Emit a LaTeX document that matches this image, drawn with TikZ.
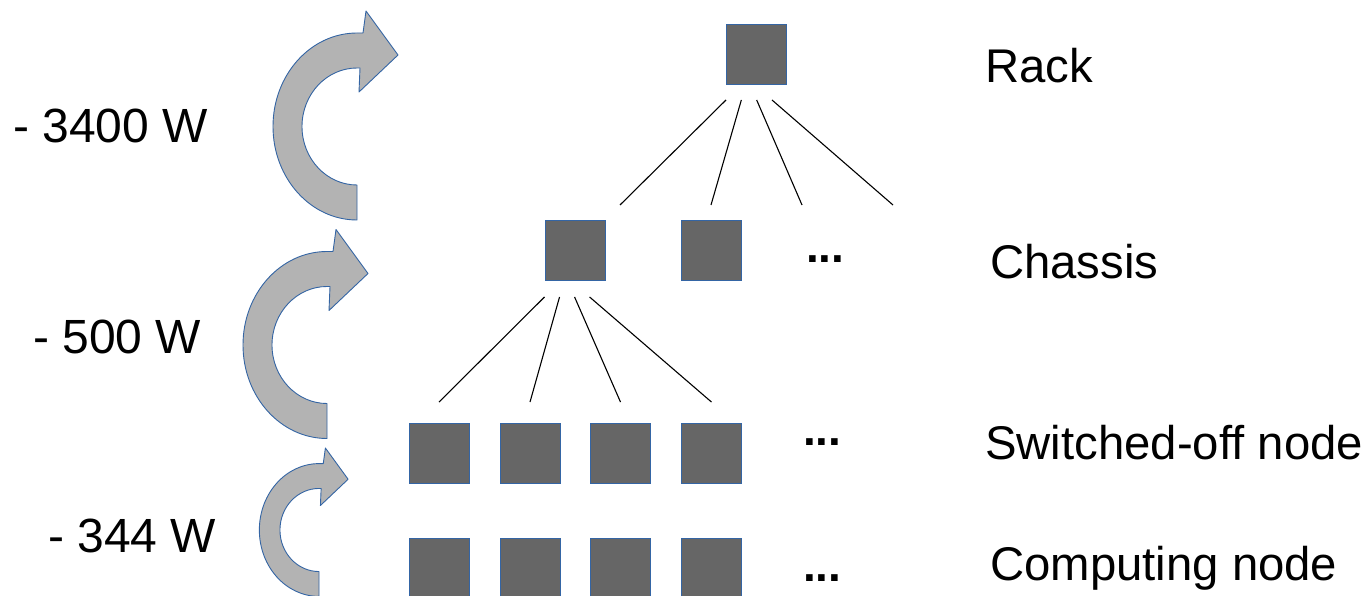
\documentclass[tikz,border=0pt]{standalone}
\usepackage{fontspec}
\setmainfont{Liberation Sans}
\usepackage{tikz}
\usetikzlibrary{calc}
\definecolor{boxgray}{HTML}{666666}
\definecolor{boxline}{HTML}{3465A4}
\definecolor{turngray}{HTML}{B3B3B3}

\begin{document}
\begin{tikzpicture}[x=1pt,y=-1pt]
    \newcommand{\turnarrow}[3]{%
      \begin{scope}[shift={(#1,#2)},scale=#3]
        \draw[turn] (0,93.5) arc[start angle=90,end angle=270,x radius=84,y radius=93.5] -- (6,-93.5) -- (9,-115.5) -- (41,-71.5) -- (2,-34.5) -- (3,-58.5) -- (0,-58.5) arc[start angle=270,end angle=90,x radius=55,y radius=58.5] -- cycle;
      \end{scope}}
    \tikzstyle{edge} = [line width=1.1pt,draw=black]
    \tikzstyle{turn} = [fill=turngray,draw=boxline,line width=0.9pt,line join=round]
    \tikzstyle{box}=[
      rectangle,
      draw=boxline,
      fill=boxgray,
      line width=0.9pt,
      minimum size=60pt,
      inner sep=0pt,
    ]
    \tikzstyle{lbl} = [anchor=base west,inner sep=0pt,font=\fontsize{47.3}{52}\selectfont]
    \tikzstyle{pwr} = [anchor=base west,inner sep=0pt,font=\fontsize{48}{52}\selectfont]
    \tikzstyle{dots} = [anchor=base west,inner sep=0pt,font=\fontsize{46}{50}\selectfont\bfseries]

    \useasboundingbox (0,0) rectangle (1371,596);

    \turnarrow{357}{126.5}{1}
    \turnarrow{327}{345}{1}
    \turnarrow{319}{530}{0.71}

    \node[box] (rack) at (756.5,54.5) {};
    \node[box] (ch1) at (575,250.5) {};
    \node[box] (ch2) at (711.5,250.5) {};
    \foreach \x [count=\i] in {439,530,620.5,711.5} {
      \node[box] (off\i) at (\x,453.5) {};
      \node[box] (cmp\i) at (\x,568.5) {};
    }

    \foreach \tx [count=\i] in {620,711,802,893} {
      \coordinate (rt\i) at ($(rack.south west)+({15.3*(\i-1)},15)$);
      \coordinate (rb\i) at (\tx,205);
      \draw[edge] (rt\i) -- (rb\i);
    }
    \foreach \i in {1,...,4} {
      \coordinate (ct\i) at ($(ch1.south west)+({15*(\i-1)},16)$);
      \coordinate (cb\i) at ($(off\i.north)+(0,-21)$);
      \draw[edge] (ct\i) -- (cb\i);
    }

    \node[dots] (d1) at (806,262) {...};
    \node[dots] (d2) at (803,445) {...};
    \node[dots] (d3) at (803,581) {...};

    \node[lbl] (rackl) at (985,83) {Rack};
    \node[lbl] (chassisl) at (990,279) {Chassis};
    \node[lbl] (offl) at (985,459) {Switched-off node};
    \node[lbl] (cmpl) at (990,580) {Computing node};

    \node[pwr] (w1) at (13,143) {- 3400 W};
    \node[pwr] (w2) at (33,353) {- 500 W};
    \node[pwr] (w3) at (48,552) {- 344 W};
  \end{tikzpicture}
\end{document}
